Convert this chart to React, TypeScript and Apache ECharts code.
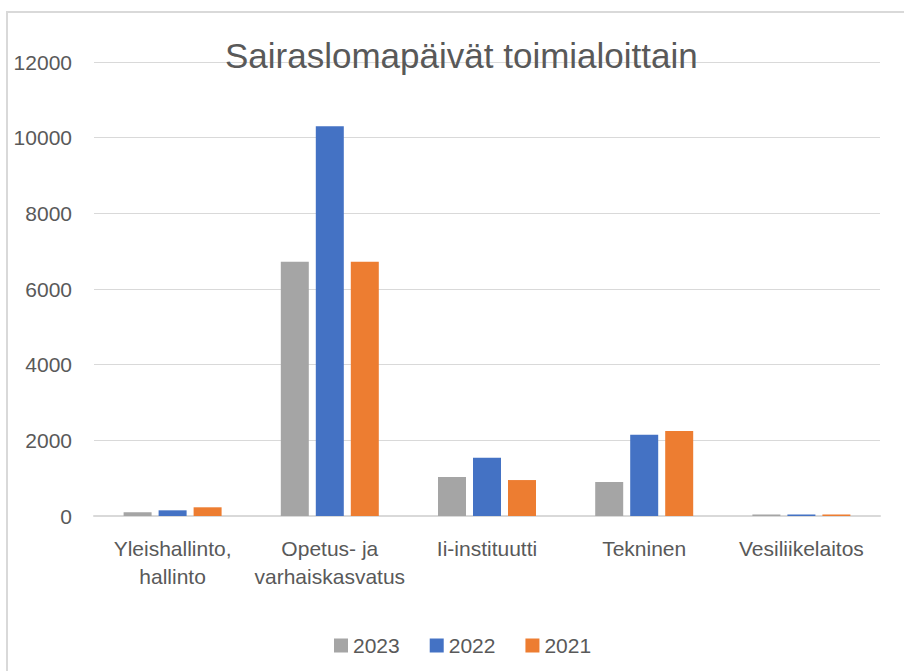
import React, { useEffect, useRef } from "react";
import * as echarts from "echarts";

const categories = ["Yleishallinto,\nhallinto", "Opetus- ja\nvarhaiskasvatus", "Ii-instituutti", "Tekninen", "Vesiliikelaitos"];
const seriesNames = ["2023", "2022", "2021"];
const values2023 = [100, 6720, 1030, 900, 40];
const values2022 = [150, 10300, 1540, 2150, 40];
const values2021 = [230, 6720, 950, 2250, 40];
const colors = ["#a5a5a5", "#4472c4", "#ed7d31"];
const title = "Sairaslomapäivät toimialoittain";

export default function App() {
  const ref = useRef<HTMLDivElement>(null);
  useEffect(() => {
    document.body.style.margin = "0";
    if (!ref.current) return;
    const chart = echarts.init(ref.current, null, { renderer: "svg" });
    const font = "'Liberation Sans', Arial, sans-serif";
    const data = [values2023, values2022, values2021];
    chart.setOption({
      animation: false,
      backgroundColor: "#ffffff",
      textStyle: { fontFamily: font },
      graphic: [
        {
          type: "rect",
          shape: { x: 7, y: 12, width: 1000, height: 1000 },
          style: { fill: "none", stroke: "#d9d9d9", lineWidth: 2 },
          z: 0,
        },
      ],
      title: {
        text: title,
        left: 225,
        top: 38,
        padding: 0,
        textStyle: { fontFamily: font, fontSize: 35, fontWeight: "normal", color: "#595959" },
        z: 10,
      },
      legend: {
        left: 334,
        top: 635,
        itemWidth: 14,
        itemHeight: 14,
        itemGap: 30,
        icon: "rect",
        padding: 0,
        textStyle: { fontFamily: font, fontSize: 21, color: "#595959" },
        data: seriesNames,
      },
      grid: { left: 94, right: 24, top: 62, bottom: 155, containLabel: false },
      xAxis: {
        type: "category",
        data: categories,
        axisLine: { show: true, lineStyle: { color: "#d9d9d9", width: 2 } },
        axisTick: { show: false },
        axisLabel: {
          fontFamily: font,
          fontSize: 21,
          color: "#595959",
          lineHeight: 28,
          margin: 18,
          interval: 0,
        },
      },
      yAxis: {
        type: "value",
        min: 0,
        max: 12000,
        interval: 2000,
        axisLine: { show: false },
        axisTick: { show: false },
        splitLine: { lineStyle: { color: "#d9d9d9", width: 1 } },
        axisLabel: {
          fontFamily: font,
          fontSize: 21,
          color: "#595959",
          margin: 22,
          formatter: (v: number) => String(v),
        },
      },
      series: seriesNames.map((name, i) => ({
        name,
        type: "bar",
        data: data[i],
        barWidth: 28,
        barGap: "25%",
        itemStyle: { color: colors[i] },
      })),
    });
    return () => chart.dispose();
  }, []);
  return <div ref={ref} style={{ width: 904, height: 671 }} />;
}
